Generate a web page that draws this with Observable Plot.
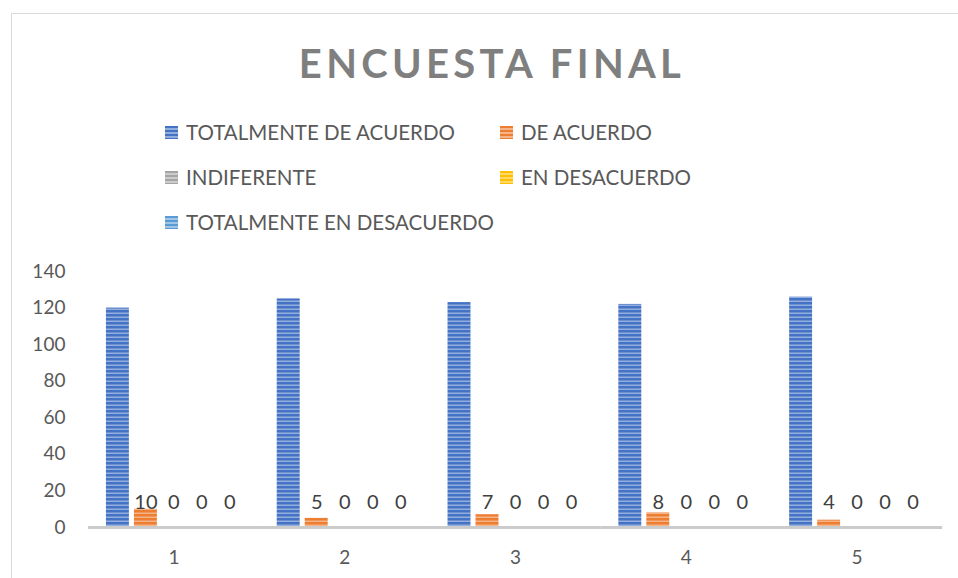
<!DOCTYPE html>
<html>
<head>
<meta charset="utf-8">
<script src="https://cdn.jsdelivr.net/npm/d3@7"></script>
<script src="https://cdn.jsdelivr.net/npm/@observablehq/plot@0.6"></script>
<style>
  html, body { margin: 0; padding: 0; background: #fff; overflow: hidden; }
  #wrap { position: relative; width: 958px; height: 578px; font-family: Lato, "Open Sans", sans-serif; }
  #border { position: absolute; left: 11px; top: 13px; width: 1000px; height: 700px; border: 1px solid #d9d9d9; box-sizing: border-box; }
  #header { position: relative; height: 250px; }
  #title { position: absolute; left: 0; width: 984px; top: 39px; text-align: center; font-weight: 700; font-size: 40px; letter-spacing: 4.3px; color: #7f7f7f; }
  #legend { position: absolute; left: 165px; top: 115px; display: grid; grid-template-columns: 335px auto; grid-auto-rows: 45px; color: #595959; font-size: 20.5px; white-space: nowrap; }
  .item { display: flex; align-items: center; height: 34px; }
  .sw { width: 13px; height: 13px; margin-right: 8px; flex: none; }
  #chart { position: relative; }
</style>
</head>
<body>
<div id="wrap">
  <div id="border"></div>
  <div id="header">
    <div id="title"></div>
    <div id="legend"></div>
  </div>
  <div id="chart"></div>
</div>
<script>
const title = "ENCUESTA FINAL";
const categories = ["1", "2", "3", "4", "5"];
const seriesNames = ["TOTALMENTE DE ACUERDO", "DE ACUERDO", "INDIFERENTE", "EN DESACUERDO", "TOTALMENTE EN DESACUERDO"];
const seriesColors = ["#4472C4", "#ED7D31", "#A5A5A5", "#FFC000", "#5B9BD5"];
const totalmenteDeAcuerdo = [120, 125, 123, 122, 126];
const deAcuerdo = [10, 5, 7, 8, 4];
const indiferente = [0, 0, 0, 0, 0];
const enDesacuerdo = [0, 0, 0, 0, 0];
const totalmenteEnDesacuerdo = [0, 0, 0, 0, 0];
const yTicks = [0, 20, 40, 60, 80, 100, 120, 140];

const seriesValues = [totalmenteDeAcuerdo, deAcuerdo, indiferente, enDesacuerdo, totalmenteEnDesacuerdo];
const rows = [];
categories.forEach((c, i) => {
  seriesNames.forEach((s, j) => {
    rows.push({cat: c, series: s, value: seriesValues[j][i], idx: j});
  });
});

const lighten = (c) => d3.interpolateRgb(c, "#ffffff")(0.42);

document.getElementById("title").textContent = title;
const legend = document.getElementById("legend");
seriesNames.forEach((s, j) => {
  const it = document.createElement("div");
  it.className = "item";
  const sw = document.createElement("span");
  sw.className = "sw";
  sw.style.background = `repeating-linear-gradient(to bottom, ${seriesColors[j]} 0px, ${seriesColors[j]} 2.5px, ${lighten(seriesColors[j])} 2.5px, ${lighten(seriesColors[j])} 4px)`;
  const tx = document.createElement("span");
  tx.textContent = s;
  it.appendChild(sw);
  it.appendChild(tx);
  legend.appendChild(it);
});

const patternIds = seriesNames.map((s, j) => `pat${j}`);

const plot = Plot.plot({
  width: 958,
  height: 328,
  marginTop: 21,
  marginBottom: 51,
  marginLeft: 88,
  marginRight: 16,
  style: {fontFamily: "Lato, 'Open Sans', sans-serif", fontSize: "19px", color: "#595959", background: "transparent"},
  fx: {domain: categories, paddingInner: 0.21, paddingOuter: 0.105, round: false, label: null},
  x: {domain: seriesNames, paddingInner: 0.18, paddingOuter: 0, round: false, axis: null},
  y: {domain: [0, 140], label: null},
  color: {domain: seriesNames, range: patternIds.map(id => `url(#${id})`)},
  marks: [
    Plot.axisY({ticks: yTicks, tickSize: 0, tickPadding: 41, label: null, fontSize: 19}),
    Plot.axisFx({anchor: "bottom", tickSize: 0, tickPadding: 23, label: null, fontSize: 19}),
    Plot.barY(rows, {fx: "cat", x: "series", y: "value", fill: "series"}),
    Plot.ruleY([0], {stroke: "#cbcbcb", strokeWidth: 3, insetLeft: -18, insetRight: -18}),
    Plot.text(rows.filter(d => d.idx > 0), {fx: "cat", x: "series", y: 0, dy: -25, text: d => String(d.value), fill: "#404040", fontSize: 20})
  ]
});

const ns = "http://www.w3.org/2000/svg";
const defs = document.createElementNS(ns, "defs");
seriesColors.forEach((c, j) => {
  const p = document.createElementNS(ns, "pattern");
  p.setAttribute("id", patternIds[j]);
  p.setAttribute("patternUnits", "userSpaceOnUse");
  p.setAttribute("width", "4");
  p.setAttribute("height", "4");
  const r1 = document.createElementNS(ns, "rect");
  r1.setAttribute("width", "4"); r1.setAttribute("height", "4"); r1.setAttribute("fill", c);
  const r2 = document.createElementNS(ns, "rect");
  r2.setAttribute("y", "2.5"); r2.setAttribute("width", "4"); r2.setAttribute("height", "1.5"); r2.setAttribute("fill", lighten(c));
  p.appendChild(r1); p.appendChild(r2);
  defs.appendChild(p);
});
plot.insertBefore(defs, plot.firstChild);
document.getElementById("chart").appendChild(plot);
</script>
</body>
</html>
